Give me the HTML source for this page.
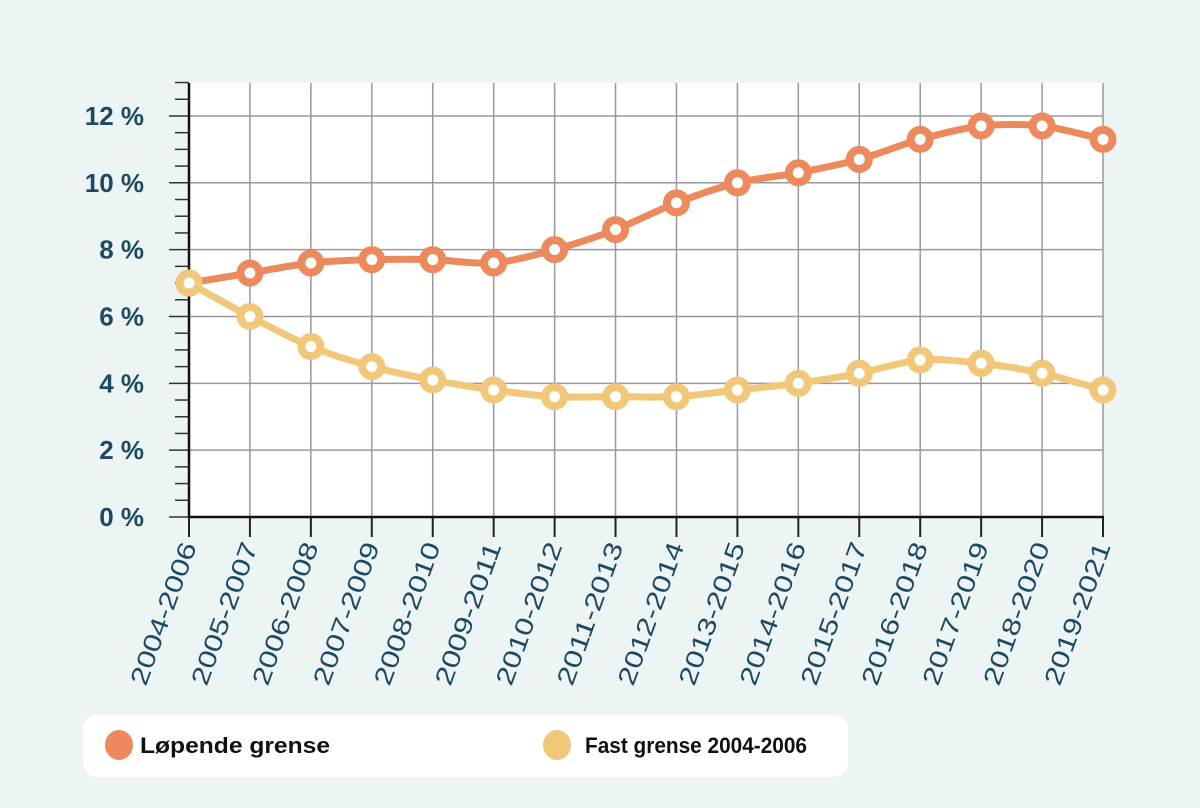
<!DOCTYPE html>
<html><head><meta charset="utf-8"><style>
html,body{margin:0;padding:0;background:#edf5f4;}
svg{display:block;font-family:"Liberation Sans",sans-serif;}
</style></head><body>
<svg id="chart" width="1200" height="808" viewBox="0 0 1200 808">
<rect x="0" y="0" width="1200" height="808" fill="#edf5f4"/>
<rect x="189" y="83" width="914" height="434" fill="#fff"/>
<g id="grid"></g><g id="axes"></g><g id="series"></g>
<g>
<rect x="83" y="715" width="765" height="62" rx="14" fill="#fff"/>
<g>
<ellipse cx="119" cy="745" rx="14" ry="15" fill="#ec8a5e"/>
<text x="140" y="753" font-size="22" font-weight="bold" fill="#111" textLength="190" lengthAdjust="spacingAndGlyphs">Løpende grense</text></g>
<g>
<ellipse cx="557" cy="745" rx="14" ry="15" fill="#f1c77a"/>
<text x="585" y="753" font-size="22" font-weight="bold" fill="#111" textLength="222" lengthAdjust="spacingAndGlyphs">Fast grense 2004-2006</text></g>
</g>
</svg>
<script>
const categories=["2004-2006","2005-2007","2006-2008","2007-2009","2008-2010","2009-2011","2010-2012","2011-2013","2012-2014","2013-2015","2014-2016","2015-2017","2016-2018","2017-2019","2018-2020","2019-2021"];
const lopende=[7.0,7.3,7.6,7.7,7.7,7.6,8.0,8.6,9.4,10.0,10.3,10.7,11.3,11.7,11.7,11.3];
const fast=[7.0,6.0,5.1,4.5,4.1,3.8,3.6,3.6,3.6,3.8,4.0,4.3,4.7,4.6,4.3,3.8];
const yTicks=[0,2,4,6,8,10,12];
const yTickLabels=["0 %","2 %","4 %","6 %","8 %","10 %","12 %"];
const NS="http://www.w3.org/2000/svg";
const X0=189,X1=1103,Y0=517,YPER=33.42;
const xs=i=>X0+i*(X1-X0)/(categories.length-1);
const ys=v=>Y0-v*YPER;
function mk(t,a,p){const e=document.createElementNS(NS,t);for(const k in a)e.setAttribute(k,a[k]);p.appendChild(e);return e;}
const grid=document.getElementById('grid'),axes=document.getElementById('axes'),series=document.getElementById('series');
categories.forEach((c,i)=>{
 if(i>0){const l=mk('line',{x1:xs(i),x2:xs(i),y1:83,y2:517,stroke:'#999','stroke-width':1.5},grid);
 
 }
 const t=mk('line',{x1:xs(i),x2:xs(i),y1:517,y2:537,stroke:'#222','stroke-width':2},axes);
 
 
 const tx=mk('text',{x:0,y:0,'font-size':25,fill:'#1d4a62','text-anchor':'end',textLength:150,lengthAdjust:'spacingAndGlyphs',transform:`translate(${xs(i)+8},${546}) rotate(-70)`},axes);
 tx.textContent=c;
 
 
});
for(let v=0;v<=13;v+=0.5){
 const major=v%2===0;
 const l=mk('line',{x1:major?169:175,x2:189,y1:ys(v),y2:ys(v),stroke:'#333','stroke-width':1.5},axes);
 
 
}
yTicks.forEach((v,i)=>{
 if(v>0){const g=mk('line',{x1:189,x2:1103,y1:ys(v),y2:ys(v),stroke:'#999','stroke-width':1.5},grid);
 
 }
 const t=mk('text',{x:144,y:ys(v)+9,'font-size':26,'font-weight':'bold',fill:'#1d4a62','text-anchor':'end'},axes);
 t.textContent=yTickLabels[i];
 
 
});
const ya=mk('line',{x1:189,x2:189,y1:83,y2:518,stroke:'#111','stroke-width':2.5},axes);


const xa=mk('line',{x1:188,x2:1104,y1:517,y2:517,stroke:'#111','stroke-width':2.5},axes);


function path(vals){const p=vals.map((v,i)=>[xs(i),ys(v)]);let d=`M${p[0][0]},${p[0][1]}`;
 for(let i=0;i<p.length-1;i++){const a=p[Math.max(0,i-1)],b=p[i],c=p[i+1],e=p[Math.min(p.length-1,i+2)];const k=0.15;
 d+=` C${b[0]+(c[0]-a[0])*k},${b[1]+(c[1]-a[1])*k} ${c[0]-(e[0]-b[0])*k},${c[1]-(e[1]-b[1])*k} ${c[0]},${c[1]}`;}return d;}
function draw(vals,color,name){
 const g=mk('g',{},series);
 
 
 const pl=mk('path',{d:path(vals),fill:'none',stroke:color,'stroke-width':7},g);
 
 
 vals.forEach((v,i)=>{const c=mk('circle',{cx:xs(i),cy:ys(v),r:9.5,fill:'#fff',stroke:color,'stroke-width':8},g);
 
 });
}
draw(lopende,'#ec8a5e','series-lopende');
draw(fast,'#f1c77a','series-fast');
</script>
</body></html>
